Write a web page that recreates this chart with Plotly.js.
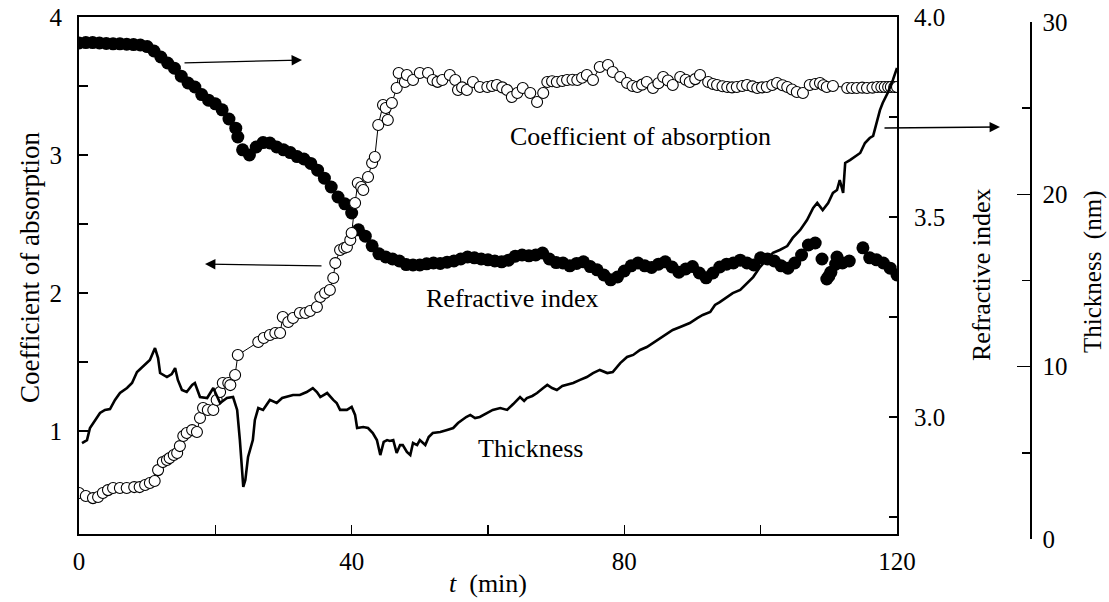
<!DOCTYPE html>
<html><head><meta charset="utf-8">
<script src="https://cdn.plot.ly/plotly-3.0.1.min.js"></script>
<style>html,body{margin:0;padding:0;background:#fff}#chart{width:1109px;height:602px}</style>
</head><body><div id="chart"></div>
<script>
// ---- data (t in minutes) ----
const refT = [0,1,2,3,4,5,6,7,8,9,10,11,12,13,14,15,16,17,18,19,20,21,22,23,23.3,24,25,26,27,28,29,30,31,32,33,34,35,36,37,38,39,40,41,42,43,44,45,46,47,48,49,50,51,52,53,54,55,56,57,58,59,60,61,62,63,64,65,66,67,68,69,70,71,72,73,74,75,76,77,78,79,80,81,82,83,84,85,86,87,88,89,90,91,92,93,94,95,96,97,98,99,100,101,102,103,104,105,106,107,108,109,109.7,110,110.3,111,111.2,112,113,115,116,117,118,119,120];
const refN = [3.935,3.936,3.936,3.935,3.934,3.933,3.933,3.932,3.931,3.930,3.926,3.915,3.900,3.885,3.872,3.852,3.835,3.825,3.806,3.792,3.783,3.768,3.745,3.722,3.700,3.668,3.655,3.675,3.686,3.685,3.675,3.668,3.661,3.651,3.645,3.634,3.617,3.597,3.575,3.550,3.533,3.510,3.468,3.452,3.428,3.408,3.400,3.395,3.390,3.381,3.380,3.380,3.383,3.385,3.384,3.387,3.390,3.395,3.400,3.398,3.395,3.393,3.390,3.388,3.392,3.402,3.405,3.403,3.405,3.410,3.395,3.386,3.385,3.378,3.384,3.388,3.376,3.368,3.355,3.343,3.350,3.365,3.378,3.385,3.378,3.374,3.382,3.388,3.375,3.362,3.370,3.376,3.360,3.348,3.360,3.375,3.382,3.385,3.392,3.385,3.380,3.398,3.395,3.390,3.378,3.372,3.385,3.405,3.430,3.435,3.395,3.345,3.352,3.362,3.382,3.400,3.385,3.390,3.423,3.398,3.393,3.385,3.372,3.355];

const absT = [0,1.0,2.05,2.8,3.5,4.25,5.0,6.0,7.0,8.1,8.9,9.7,10.4,11.1,11.6,12.3,12.9,13.3,13.9,14.4,14.8,15.3,15.8,16.6,17.3,17.75,18.2,18.9,19.7,20.2,20.7,21.1,21.9,22.2,22.9,23.3,26.3,27.1,28.0,28.8,29.5,29.9,30.7,31.4,32.4,33.2,33.9,34.9,35.4,36.1,36.8,37.3,37.6,38.3,38.9,39.3,39.8,40.0,40.5,40.9,41.4,41.7,42.4,43.0,43.4,43.9,44.6,45.0,45.3,45.9,46.6,46.9,47.8,48.1,49.0,50.0,51.2,51.9,52.6,53.3,54.4,55.2,55.6,56.2,56.9,57.8,58.8,59.9,60.6,61.3,62.1,62.8,63.5,64.3,65.1,66.2,67.2,68.1,68.7,69.4,70.1,70.9,71.6,72.4,73.1,73.8,74.5,75.4,76.4,77.6,78.3,79.4,80.4,81.2,81.9,82.6,83.3,84.2,85.0,85.7,86.4,87.1,88.2,89.0,89.6,90.4,91.1,92.3,93.0,93.6,94.4,95.1,95.8,96.5,97.3,98.0,98.8,99.5,100.2,100.9,101.7,102.4,103.2,103.9,104.6,105.3,106.2,107.2,108.0,108.7,109.2,109.7,110.6,112.7,113.4,114.1,114.9,115.6,116.4,117.1,117.7,118.2,118.7,119.1,119.6,120];
const absK = [0.551,0.529,0.514,0.522,0.551,0.572,0.587,0.587,0.587,0.594,0.594,0.609,0.623,0.638,0.717,0.775,0.790,0.804,0.826,0.841,0.891,0.964,0.986,1.007,0.993,1.094,1.167,1.152,1.152,1.225,1.283,1.348,1.348,1.333,1.406,1.551,1.645,1.674,1.696,1.710,1.710,1.826,1.790,1.819,1.855,1.855,1.870,1.899,1.971,2.000,2.022,2.109,2.217,2.312,2.326,2.333,2.384,2.435,2.652,2.797,2.768,2.746,2.841,2.942,2.986,3.217,3.362,3.341,3.254,3.377,3.486,3.594,3.529,3.580,3.543,3.594,3.594,3.543,3.530,3.543,3.580,3.543,3.471,3.490,3.471,3.529,3.493,3.493,3.500,3.507,3.490,3.471,3.420,3.449,3.486,3.449,3.384,3.449,3.529,3.535,3.529,3.536,3.543,3.545,3.543,3.560,3.580,3.543,3.638,3.652,3.601,3.565,3.522,3.500,3.493,3.510,3.529,3.486,3.520,3.565,3.540,3.507,3.565,3.545,3.529,3.550,3.580,3.529,3.515,3.507,3.498,3.493,3.490,3.493,3.500,3.507,3.497,3.486,3.490,3.493,3.507,3.522,3.505,3.493,3.475,3.457,3.449,3.507,3.515,3.522,3.505,3.493,3.500,3.486,3.486,3.486,3.488,3.486,3.488,3.493,3.493,3.493,3.493,3.493,3.493,3.493];

const thkT = [0.44,1.17,1.61,2.35,3.08,3.81,4.55,5.28,6.01,7.04,7.78,8.51,9.24,9.98,10.4,11.15,11.6,11.9,12.9,13.6,14.1,14.5,15.1,15.8,16.6,17.0,17.75,18.8,19.7,20.7,21.7,22.6,23.2,23.6,24.1,24.4,24.8,25.5,25.8,26.3,27.0,28.0,29.0,29.8,30.5,31.4,32.4,33.4,34.3,34.9,35.4,36.4,37.3,37.8,38.3,39.3,40.0,40.5,40.8,41.7,42.4,43.1,43.7,44.2,44.7,45.2,45.6,46.1,46.6,47.1,47.5,48.1,48.6,49.0,49.6,50.0,50.8,51.3,51.9,53.0,54.0,54.9,55.6,56.2,56.8,57.4,58.1,58.8,59.9,60.7,61.8,62.8,63.7,64.7,65.3,65.7,66.5,67.2,68.1,68.7,69.4,70.1,70.9,71.6,72.5,73.5,74.5,75.4,76.4,77.5,78.3,79.4,80.4,81.3,82.3,83.3,84.2,85.2,86.3,87.1,88.2,89.6,90.7,91.5,92.6,93.3,94.0,95.1,95.9,97.0,98.0,98.9,99.9,100.9,101.8,102.8,103.9,104.7,105.8,106.8,107.7,108.3,108.7,109.1,109.9,110.6,111.2,111.6,112.1,112.4,113.1,113.8,114.6,115.3,116.0,116.5,117.1,117.5,117.9,118.7,119.4,120.0];
const thkV = [5.57,5.74,6.44,6.91,7.31,7.49,7.54,8.07,8.47,8.76,9.05,9.69,9.98,10.27,10.39,11.08,10.50,9.63,9.40,9.57,9.92,9.23,8.65,8.53,8.94,9.05,8.24,8.18,8.76,7.89,8.18,8.24,7.49,5.74,3.02,3.42,4.76,5.74,6.91,7.60,7.49,8.07,7.89,8.18,8.24,8.36,8.36,8.53,8.76,8.53,8.24,8.47,8.07,7.89,7.49,7.49,7.66,7.20,6.44,6.50,6.44,6.15,5.74,4.87,5.63,5.74,5.69,5.74,4.99,5.45,5.45,5.05,4.87,5.57,5.45,5.74,5.45,5.92,6.15,6.21,6.33,6.44,6.73,6.91,7.08,7.20,7.02,7.08,7.31,7.49,7.60,7.49,7.83,8.24,8.01,8.18,8.30,8.47,8.76,8.94,8.76,8.65,8.88,8.94,9.05,9.23,9.40,9.63,9.81,9.63,9.69,10.21,10.56,10.68,10.97,11.14,11.37,11.66,11.95,12.13,12.30,12.53,12.82,13.00,13.17,13.58,13.75,14.04,14.27,14.45,14.86,15.20,15.78,16.19,16.60,16.77,17.00,17.47,17.93,18.51,19.21,19.50,19.27,19.09,19.50,20.08,20.25,20.83,20.08,21.82,21.99,22.17,22.40,22.98,23.27,23.39,24.31,24.89,25.30,25.94,26.64,27.33];

const xTicks = [0,20,40,60,80,100,120];
const xTickText = ['0','','40','','80','','120'];
const absTicks = [1,1.5,2,2.5,3,3.5,4];
const absTickText = ['1','','2','','3','','4'];
const refTicks = [2.75,3,3.25,3.5,3.75,4];
const refTickText = ['','3.0','','3.5','','4.0'];
const thkTicks = [0,10,20,30];
const thkMinor = [5,15,25];

// ---- layout helpers (pixel -> paper) ----
const ML=79, MR=60, MT=17, MB=63, W=1109, H=602;
const PW=W-ML-MR, PH=H-MT-MB;
const px=x=>(x-ML)/PW, py=y=>(H-MB-y)/PH;
const FONT='"Liberation Serif", "Times New Roman", Times, serif';

const traces = [
  {x:refT, y:refN, xaxis:'x', yaxis:'y', mode:'markers', type:'scatter',
   marker:{symbol:'circle', size:13, color:'#000'}, hoverinfo:'skip'},
  {x:absT, y:absK, xaxis:'x', yaxis:'y2', mode:'lines+markers', type:'scatter',
   line:{color:'#000', width:1},
   marker:{symbol:'circle', size:11, color:'#fff', line:{color:'#000', width:1.1}}, hoverinfo:'skip'},
  {x:thkT, y:thkV, xaxis:'x', yaxis:'y3', mode:'lines', type:'scatter',
   line:{color:'#000', width:2.6}, hoverinfo:'skip'}
];

const axBase = {showgrid:false, zeroline:false, showline:true, linecolor:'#000',
  tickcolor:'#000', tickfont:{family:FONT, size:25, color:'#000'}, tickmode:'array'};

const txt = (x, y, text, size, angle) => ({xref:'paper', yref:'paper', x:px(x), y:py(y), text:text,
  showarrow:false, textangle:angle||0, xanchor:'center', yanchor:'middle',
  font:{family:FONT, size:size, color:'#000'}});
const arrow = (hx, hy, tx, ty) => ({xref:'paper', yref:'paper', x:px(hx), y:py(hy), ax:tx-hx, ay:ty-hy,
  text:'', showarrow:true, arrowhead:2, arrowsize:1.6, arrowwidth:1.3, arrowcolor:'#000'});

const layout = {
  width:W, height:H, margin:{l:ML, r:MR, t:MT, b:MB},
  paper_bgcolor:'#fff', plot_bgcolor:'rgba(0,0,0,0)', showlegend:false,
  font:{family:FONT, color:'#000'},
  xaxis: Object.assign({}, axBase, {domain:[0, 818/PW], range:[0,120], anchor:'y',
    tickvals:xTicks, ticktext:xTickText, ticks:'inside', ticklen:9, tickwidth:1.5,
    linewidth:2, mirror:true, ticklabelstandoff:4,
    title:{text:'<i>t</i>&nbsp;&nbsp;(min)', font:{family:FONT, size:26}, standoff:0}}),
  yaxis: Object.assign({}, axBase, {domain:[5/PH,1], range:[2.7075,4.0], anchor:'x', side:'right',
    tickvals:refTicks, ticktext:refTickText, ticks:'inside', ticklen:8, tickwidth:1.5,
    linewidth:2, ticklabelstandoff:10}),
  yaxis2: Object.assign({}, axBase, {overlaying:'y', range:[0.254,4], anchor:'x', side:'left',
    tickvals:absTicks, ticktext:absTickText, ticks:'inside', ticklen:9, tickwidth:1.5,
    linewidth:2, ticklabelstandoff:10}),
  yaxis3: Object.assign({}, axBase, {domain:[0, 517/PH], range:[0,30], anchor:'free',
    position:(1030-ML)/PW, side:'right',
    tickvals:thkTicks, ticks:'inside', ticklen:13, tickwidth:1.5, linewidth:1.5,
    minor:{tickvals:thkMinor, ticks:'inside', ticklen:8, tickwidth:1.5, tickcolor:'#000'},
    ticklabelstandoff:6}),
  annotations: [
    txt(30, 268, 'Coefficient of absorption', 27, -90),
    txt(981, 275, 'Refractive index', 26, -90),
    txt(1093, 272, 'Thickness&nbsp;&nbsp;(nm)', 25, -90),
    txt(640, 136, 'Coefficient of absorption', 26),
    txt(512, 298, 'Refractive index', 26),
    txt(530, 448, 'Thickness', 26),
    arrow(302, 60, 183, 63),
    arrow(205, 264, 323, 266),
    arrow(1000, 127, 883, 128)
  ]
};

Plotly.newPlot('chart', traces, layout, {staticPlot:true, displayModeBar:false});
</script>
</body></html>
